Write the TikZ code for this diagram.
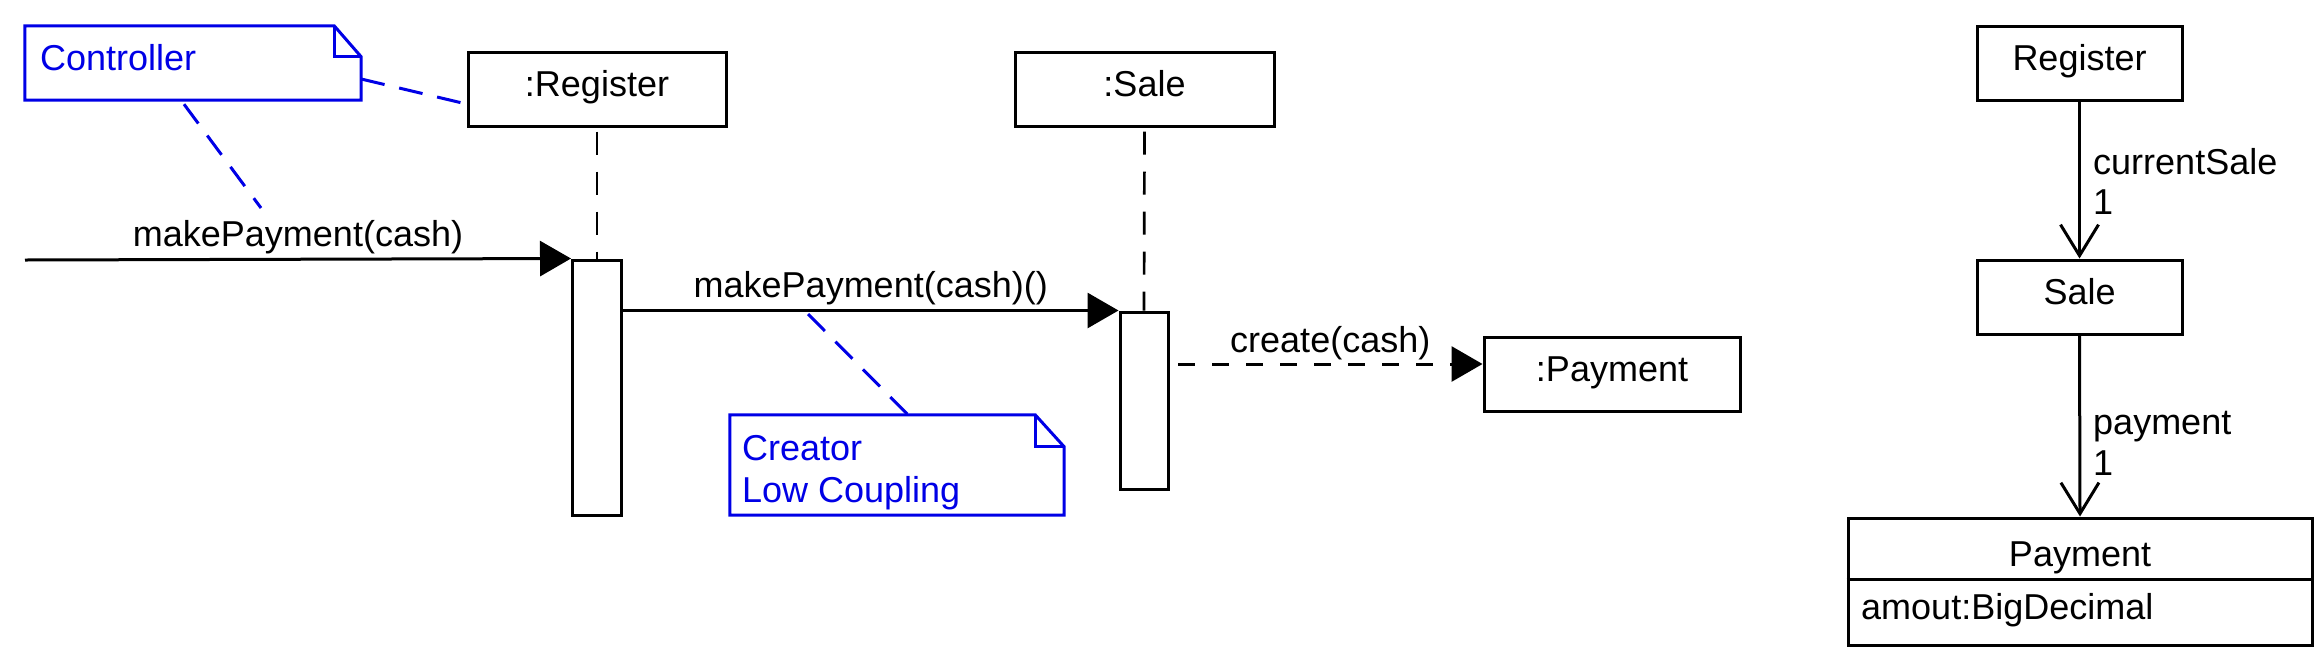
\documentclass[tikz,border=0pt]{standalone}
\usepackage{fontspec}
\setmainfont{Liberation Sans}
\usetikzlibrary{arrows.meta}
\definecolor{noteblue}{RGB}{0,0,230}
\tikzset{
  txt/.style={font=\fontsize{36}{42}\selectfont, inner sep=0pt},
  box/.style={draw, line width=3pt, inner sep=0pt, minimum height=74pt, text height=26pt, text depth=12pt, font=\fontsize{36}{42}\selectfont},
  actbox/.style={draw, fill=white, line width=3pt, inner sep=0pt},
  lifeline/.style={line width=2.7pt, dash pattern=on 23pt off 17pt},
  msg/.style={line width=3pt, -{Triangle[length=31pt,width=35pt]}},
  createmsg/.style={line width=3pt, dash pattern=on 17pt off 17pt, -{Triangle[length=31pt,width=35pt]}},
  assoc/.style={line width=3pt, -{Straight Barb[length=31pt,width=38pt]}},
  notelink/.style={noteblue, line width=3pt, dash pattern=on 24pt off 15pt},
  noteframe/.style={noteblue, line width=3pt},
  notearea/.style={inner sep=0pt},
  notetxt/.style={txt, text=noteblue},
}
\begin{document}
\begin{tikzpicture}[x=1pt,y=-1pt]
\path[use as bounding box] (0,0) rectangle (2323,665);
% ---------- sequence diagram ----------
\node[box, minimum width=258pt] (reg) at (597,89) {:Register};
\node[box, minimum width=259pt] (sale) at (1144.5,89) {:Sale};
\node[actbox, minimum width=49pt, minimum height=255pt] (actR) at (597,387.5) {};
\node[actbox, minimum width=48pt, minimum height=177pt] (actS) at (1144,400.5) {};
\draw[lifeline] ([yshift=-4pt]reg.south) -- (actR.north);
\draw[lifeline] ([yshift=-4pt]sale.south) -- (actS.north);
\node[box, minimum width=256pt] (pay) at (1612,374) {:Payment};

\coordinate (in) at (25,260);
\draw[msg] (in) -- node[txt, midway, anchor=base, yshift=13pt] (m1) {makePayment(cash)} (actR.north west);
\draw[msg] (actR.east |- actS.north) -- node[txt, midway, anchor=base, yshift=13pt] (m2) {makePayment(cash)()} (actS.north west);
\coordinate (cs) at (1178,364);
\draw[createmsg] (cs) -- node[txt, midway, anchor=base, yshift=12pt] (m3) {create(cash)} ([yshift=10pt]pay.west);

% notes
\node[notearea, minimum width=336pt, minimum height=74pt] (ctrl) at (193,63) {};
\draw[noteframe] (ctrl.north west) -- ([xshift=-27pt]ctrl.north east) -- ([yshift=-31pt]ctrl.north east) -- (ctrl.south east) -- (ctrl.south west) -- cycle;
\draw[noteframe] ([xshift=-27pt]ctrl.north east) |- ([yshift=-31pt]ctrl.north east);
\node[notetxt, anchor=base west] (ctrlt) at (40,70) {Controller};

\node[notearea, minimum width=334pt, minimum height=100pt] (crt) at (897,465) {};
\draw[noteframe] (crt.north west) -- ([xshift=-29pt]crt.north east) -- ([yshift=-32pt]crt.north east) -- (crt.south east) -- (crt.south west) -- cycle;
\draw[noteframe] ([xshift=-29pt]crt.north east) |- ([yshift=-32pt]crt.north east);
\node[notetxt, anchor=base west] (crt1) at (742,460) {Creator};
\node[notetxt, anchor=base west] (crt2) at (742,502) {Low Coupling};

\draw[notelink] ([yshift=-16pt]ctrl.east) -- ([yshift=-15pt]reg.west);
\coordinate (c1) at (261,208);
\draw[notelink] ([xshift=-9pt,yshift=-4pt]ctrl.south) -- (c1);
\coordinate (c2) at (808,314);
\draw[notelink] (c2) -- ([xshift=11pt]crt.north);

% ---------- class diagram ----------
\node[box, minimum width=205pt] (creg) at (2079.5,63) {Register};
\node[box, minimum width=205pt] (csale) at (2079.5,297) {Sale};
\node[draw, line width=3pt, inner sep=0pt, minimum width=464pt, minimum height=127pt] (cpay) at (2080,581.5) {};
\coordinate (dv) at (0,579);
\draw[line width=3pt] (cpay.west |- dv) -- (cpay.east |- dv);
\node[txt, anchor=base] (cpn) at (2080,566) {Payment};
\node[txt, anchor=base west] (cpa) at (1861,619) {amout:BigDecimal};
\draw[assoc] (creg.south) -- (csale.north);
\draw[assoc] (csale.south) -- (cpay.north);
\node[txt, anchor=base west] (a1) at (2093,174) {currentSale};
\node[txt, anchor=base west] (a1m) at (2093,214) {1};
\node[txt, anchor=base west] (a2) at (2093,434) {payment};
\node[txt, anchor=base west] (a2m) at (2093,475) {1};
\end{tikzpicture}
\end{document}
